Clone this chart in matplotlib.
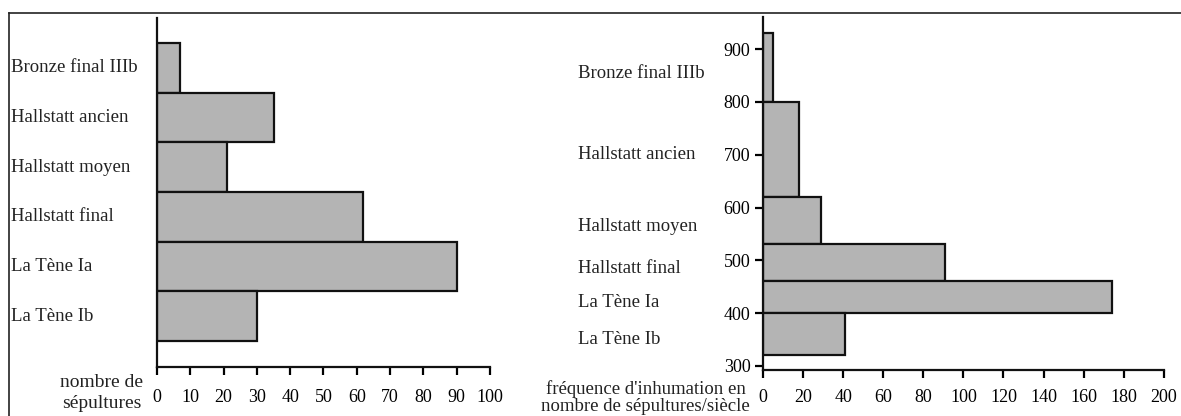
import matplotlib.pyplot as plt
import numpy as np
from matplotlib.lines import Line2D

plt.rcParams['font.family'] = ['Liberation Serif', 'DejaVu Serif']

# left chart: number of burials per period
periods = ["Bronze final IIIb", "Hallstatt ancien", "Hallstatt moyen",
           "Hallstatt final", "La Tène Ia", "La Tène Ib"]
nb_sepultures = [7, 35, 21, 62, 90, 30]

# right chart: burials per century, over the dated span of each period
debut = [930, 800, 620, 530, 460, 400]
fin = [800, 620, 530, 460, 400, 320]
frequence = [5, 18, 29, 91, 174, 41]

x_ticks_left = np.arange(0, 101, 10)
x_ticks_right = np.arange(0, 201, 20)
y_ticks_right = np.arange(300, 901, 100)

bar_color = "#b4b4b4"
edge = "#111111"
lw = 1.6

fig = plt.figure(figsize=(11.81, 4.16), dpi=100)

# frame around the figure (only top and left visible)
fig.add_artist(Line2D([0.0076, 0.0076], [0.0, 0.9688], transform=fig.transFigure,
                      color="#222222", lw=1.2))
fig.add_artist(Line2D([0.0076, 1.0], [0.9688, 0.9688], transform=fig.transFigure,
                      color="#222222", lw=1.2))

# ---- left chart
ax1 = fig.add_axes([0.1329, 0.1178, 0.282, 0.839])
pos = np.arange(len(periods))[::-1]
ax1.barh(pos, nb_sepultures, height=1.0, color=bar_color, edgecolor=edge, linewidth=lw)
ax1.set_xlim(0, 100)
ax1.set_ylim(-1.02, 6.0)
ax1.set_xticks(x_ticks_left)
ax1.set_yticks([])
for s in ["top", "right"]:
    ax1.spines[s].set_visible(False)
for s in ["left", "bottom"]:
    ax1.spines[s].set_linewidth(lw)
    ax1.spines[s].set_color(edge)
ax1.tick_params(axis="x", direction="out", length=6, width=lw, pad=10, labelsize=13)
for p, name in zip(pos, periods):
    ax1.annotate(name, xy=(0.0093, p), xycoords=("figure fraction", "data"),
                 ha="left", va="center", fontsize=13.5, color="#222222")
fig.text(0.121, 0.0555, "nombre de\nsépultures", ha="right", va="center",
         multialignment="center", fontsize=14, linespacing=1.35, color="#222222")

# ---- right chart
ax2 = fig.add_axes([0.646, 0.1106, 0.3395, 0.849])
heights = [d - f for d, f in zip(debut, fin)]
ax2.barh(fin, frequence, height=heights, align="edge", color=bar_color,
         edgecolor=edge, linewidth=lw)
ax2.set_xlim(0, 200)
ax2.set_ylim(292.4, 961)
ax2.set_xticks(x_ticks_right)
ax2.set_yticks(y_ticks_right)
for s in ["top", "right"]:
    ax2.spines[s].set_visible(False)
for s in ["left", "bottom"]:
    ax2.spines[s].set_linewidth(lw)
    ax2.spines[s].set_color(edge)
ax2.tick_params(axis="x", direction="out", length=6, width=lw, pad=8, labelsize=13)
ax2.tick_params(axis="y", direction="out", length=6, width=lw, pad=3, labelsize=13)
for d, f, name in zip(debut, fin, periods):
    ax2.annotate(name, xy=(0.489, (d + f) / 2), xycoords=("figure fraction", "data"),
                 xytext=(0, -4), textcoords="offset points",
                 ha="left", va="center", fontsize=13.5, color="#222222")
fig.text(0.635, 0.045, "fréquence d'inhumation en\nnombre de sépultures/siècle",
         ha="right", va="center", multialignment="center", fontsize=13.5,
         linespacing=1.0, color="#222222")

fig.savefig("out.png", dpi=100)
